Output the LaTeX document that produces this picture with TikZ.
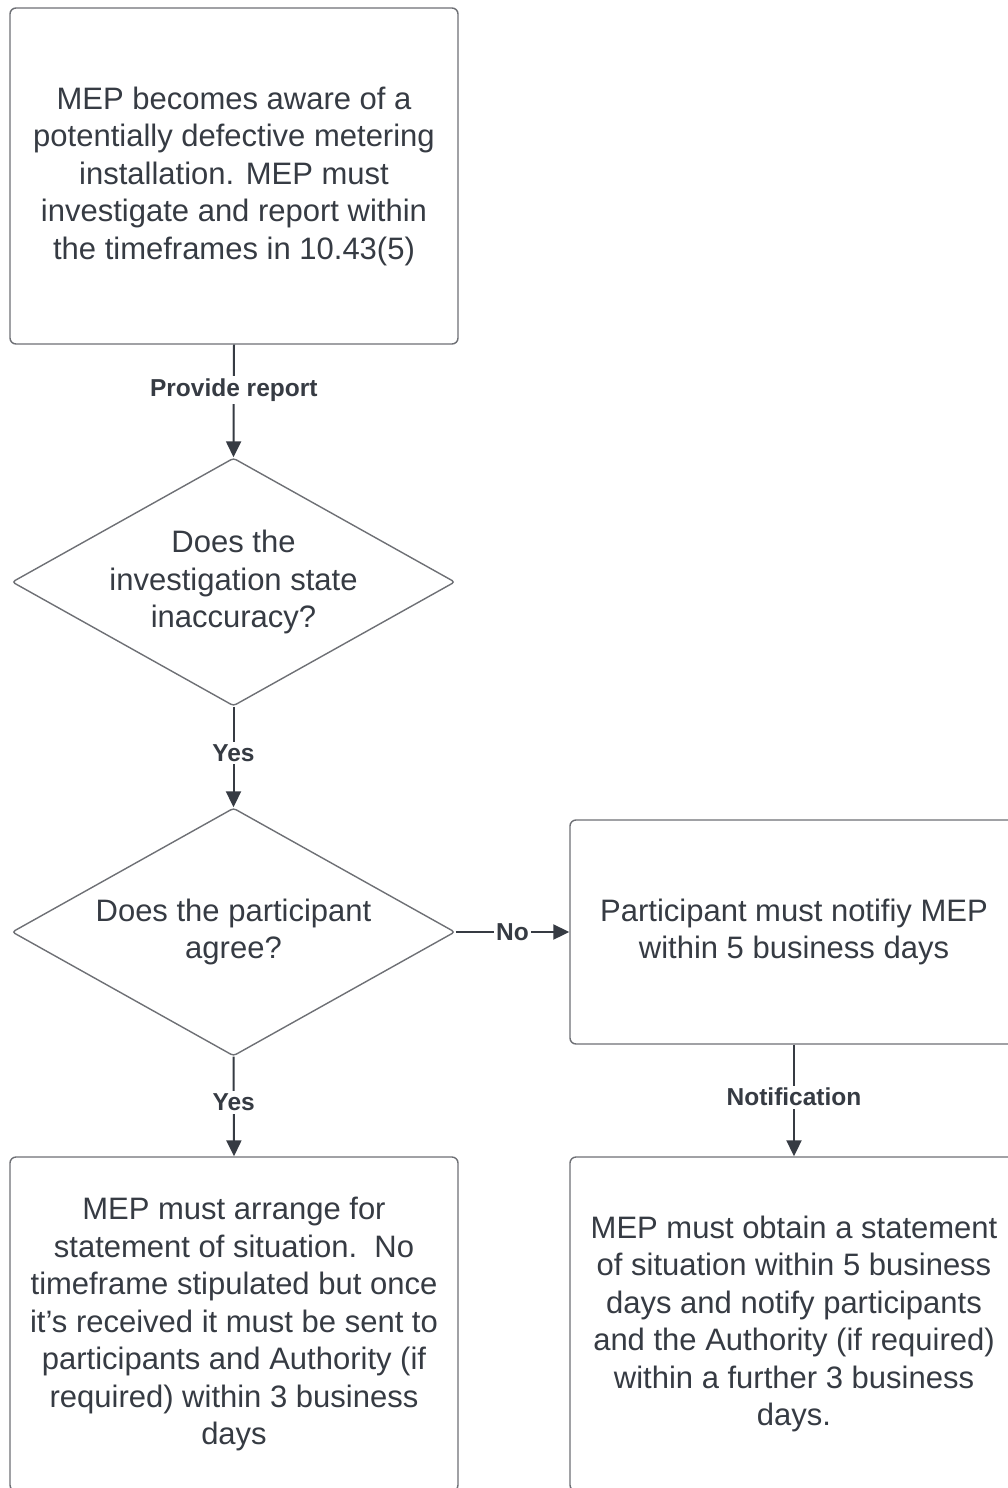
\documentclass[tikz,border=0pt]{standalone}
\usepackage{fontspec}
\setmainfont{Liberation Sans}
\usetikzlibrary{shapes.geometric,arrows.meta}
\definecolor{inkgrey}{HTML}{363B43}
\definecolor{edgegrey}{HTML}{6E7075}

\begin{document}
\begin{tikzpicture}[x=1pt,y=-1pt,
  stepbox/.style={draw=edgegrey,line width=1.4pt,rounded corners=6pt,fill=white,
    text=inkgrey,align=center,inner sep=0pt,minimum width=448,
    font=\fontsize{31}{37.5}\selectfont},
  decision/.style={diamond,aspect=1.78,draw=edgegrey,line width=1.4pt,rounded corners=3pt,
    fill=white,text=inkgrey,align=center,inner sep=0pt,minimum width=443,minimum height=248,
    font=\fontsize{31}{37.5}\selectfont},
  flow/.style={draw=inkgrey,line width=2pt,-{Triangle[length=16pt,width=15pt]}},
  lbl/.style={fill=white,text=inkgrey,inner sep=2.5pt,font=\fontsize{24.5}{28}\selectfont\bfseries}]
\useasboundingbox (0,0) rectangle (1008,1488);
\clip (0,0) rectangle (1008,1488);

% left column
\node[stepbox,minimum height=336] (aware) at (234,176)
  {MEP becomes aware of a\\potentially defective metering\\installation. MEP must\\investigate and report within\\the timeframes in 10.43(5)};
\node[decision] (inacc) at (233.5,582) {Does the\\investigation state\\inaccuracy?};
\node[decision] (agree) at (233.5,932) {Does the participant\\agree?};
\node[stepbox,minimum height=334] (arrange) at (234,1324)
  {MEP must arrange for\\statement of situation.\ \ No\\timeframe stipulated but once\\it's received it must be sent to\\participants and Authority (if\\required) within 3 business\\days};

% right column
\node[stepbox,minimum height=224] (notify) at (794,932)
  {Participant must notifiy MEP\\within 5 business days};
\node[stepbox,minimum height=334] (obtain) at (794,1324)
  {MEP must obtain a statement\\of situation within 5 business\\days and notify participants\\and the Authority (if required)\\within a further 3 business\\days.};

% connectors
\draw[flow] (aware.south) -- node[lbl,pos=0.4] {Provide report} (inacc.north);
\draw[flow] (inacc.south) -- node[lbl,pos=0.46] {Yes} (agree.north);
\draw[flow] (agree.south) -- node[lbl,pos=0.46] {Yes} (arrange.north);
\draw[flow] (agree.east) -- node[lbl] {No} (notify.west);
\draw[flow] (notify.south) -- node[lbl,pos=0.47] {Notification} (obtain.north);
\end{tikzpicture}
\end{document}
